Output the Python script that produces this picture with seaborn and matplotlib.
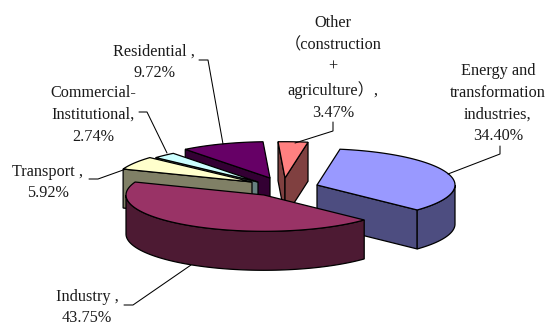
import numpy as np
import matplotlib
matplotlib.use("Agg")
import matplotlib.pyplot as plt
import seaborn as sns

categories = ["Energy and\ntransformation\nindustries,", "Industry ,", "Transport ,",
              "Commercial-\nInstitutional,", "Residential ,",
              "Other\n（construction\n+\nagriculture）,"]
shares = [34.40, 43.75, 5.92, 2.74, 9.72, 3.47]
top_colors = ["#9999FF", "#993366", "#FFFFCC", "#CCFFFF", "#660066", "#FF8080"]
side_colors = ["#4D4D80", "#4D1A33", "#808066", "#668080", "#330033", "#804040"]

START, RX, RY, DEPTH = 9.6, 138.0, 36.3, 39.0
apex_x = [317, 264, 252, 258, 270, 285]
apex_y = [185, 195, 182, 182, 178, 178]
draw_order = [4, 3, 2, 5, 0, 1]

label_x = [498, 87, 48, 93, 154, 333]
label_y = [103.5, 307.5, 182.5, 115, 62.5, 68]
leader_x = [[448, 500, 500], [191, 133, 124], [126, 98, 89], [167, 147, 139], [223, 208, 199], [295, 333, 333]]
leader_y = [[174, 154, 146], [265, 305, 305], [169, 179, 179], [153, 112, 112], [144, 60, 60], [143, 131, 122]]

sns.set_theme(style="white")
plt.rcParams["font.family"] = ["Liberation Serif", "Noto Sans CJK SC"]
fig = plt.figure(figsize=(5.48, 3.22), dpi=100)
ax = fig.add_axes([0, 0, 1, 1])
ax.set_xlim(0, 548)
ax.set_ylim(322, 0)
ax.axis("off")


def pt(cx, cy, a):
    r = np.radians(a)
    return cx + RX * np.sin(r), cy - RY * np.cos(r)


edges = START + np.concatenate([[0], np.cumsum(np.array(shares) / sum(shares) * 360)])
for i in draw_order:
    a0, a1 = edges[i], edges[i + 1]
    cx, cy = apex_x[i], apex_y[i]
    # cut faces turned towards the viewer
    for a, visible in ((a0, np.sin(np.radians(a0)) < 0), (a1, np.sin(np.radians(a1)) > 0)):
        if visible:
            x, y = pt(cx, cy, a)
            ax.fill([cx, x, x, cx], [cy, y, y + DEPTH, cy + DEPTH],
                    fc=side_colors[i], ec="black", lw=0.9, zorder=1)
    # outer wall (front-facing part of the rim)
    lo = max(a0, 90)
    hi = min(a1, 270)
    if lo < hi:
        t = np.linspace(lo, hi, 80)
        x, y = pt(cx, cy, t)
        ax.fill(np.r_[x, x[::-1]], np.r_[y, y[::-1] + DEPTH],
                fc=side_colors[i], ec="black", lw=0.9, zorder=1)
    t = np.linspace(a0, a1, 80)
    x, y = pt(cx, cy, t)
    ax.fill(np.r_[cx, x], np.r_[cy, y], fc=top_colors[i], ec="black", lw=0.9, zorder=1)

for i, name in enumerate(categories):
    ax.text(label_x[i], label_y[i], f"{name}\n{shares[i]:.2f}%", ha="center", va="center",
            fontsize=11.7, color="#1a1a1a", linespacing=1.47, zorder=3)
    ax.plot(leader_x[i], leader_y[i], color="black", lw=0.75, zorder=2)

fig.savefig("out.png", dpi=100, facecolor="white")
